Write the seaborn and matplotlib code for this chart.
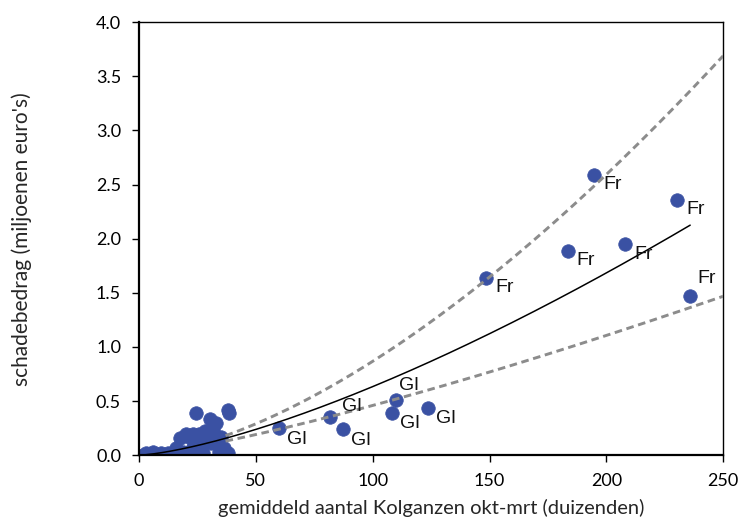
import numpy as np
import pandas as pd
import matplotlib
matplotlib.use("Agg")
import matplotlib.pyplot as plt
import seaborn as sns
from matplotlib.ticker import FormatStrFormatter

# average number of geese (thousands) vs damage (million euro)
cluster_x = [24.4, 38.0, 38.4, 30.4, 33.0, 31.8, 28.0, 25.8, 23.0, 20.1, 17.3,
             21.5, 24.4, 28.7, 35.1, 30.8, 33.7, 36.5, 38.0, 34.4, 25.8, 27.3,
             21.5, 18.7, 15.8, 12.3, 9.4, 5.9, 3.0, 1.6, 14.4, 23.0, 32.2]
cluster_y = [0.39, 0.42, 0.39, 0.33, 0.30, 0.23, 0.22, 0.20, 0.20, 0.20, 0.16,
             0.17, 0.14, 0.16, 0.17, 0.11, 0.10, 0.07, 0.02, 0.03, 0.07, 0.02,
             0.03, 0.03, 0.07, 0.02, 0.02, 0.03, 0.02, 0.00, 0.02, 0.08, 0.19]

gl_x = [59.9, 81.5, 87.2, 108.4, 109.9, 123.7]
gl_y = [0.25, 0.35, 0.24, 0.39, 0.51, 0.44]

fr_x = [148.7, 183.4, 194.8, 208.0, 230.3, 235.9]
fr_y = [1.64, 1.89, 2.59, 1.95, 2.36, 1.47]

# power trendlines y = a * x^b
trend_all = (0.000959, 1.41)
trend_fr = (0.000600, 1.58)
trend_gl = (0.001337, 1.268)

x_ticks = [0, 50, 100, 150, 200, 250]
y_ticks = [0.0, 0.5, 1.0, 1.5, 2.0, 2.5, 3.0, 3.5, 4.0]

xlabel = "gemiddeld aantal Kolganzen okt-mrt (duizenden)"
ylabel = "schadebedrag (miljoenen euro's)"

sns.set_style("white")
plt.rcParams["font.family"] = ["Lato", "DejaVu Sans"]

fig = plt.figure(figsize=(7.52, 5.22), dpi=100)
ax = fig.add_axes([0.185, 0.128, 0.7766, 0.8295])


def curve(coef, x0, x1):
    xs = np.linspace(x0, x1, 200)
    return pd.DataFrame({"x": xs, "y": coef[0] * xs ** coef[1]})


pts = pd.DataFrame({"x": cluster_x + gl_x + fr_x, "y": cluster_y + gl_y + fr_y})
sns.scatterplot(data=pts, x="x", y="y", ax=ax, s=95, color="#3A51A3",
                edgecolor="#3A51A3", linewidth=0.5, zorder=2)

sns.lineplot(data=curve(trend_fr, 37, 250), x="x", y="y", ax=ax, color="#8C8C8C",
             lw=2.1, linestyle=(0, (2.6, 1.6)), zorder=3)
sns.lineplot(data=curve(trend_gl, 37, 250), x="x", y="y", ax=ax, color="#8C8C8C",
             lw=2.1, linestyle=(0, (2.6, 1.6)), zorder=3)
sns.lineplot(data=curve(trend_all, 2.6, 235.9), x="x", y="y", ax=ax, color="black",
             lw=1.1, zorder=4)

# labels for the regions (offsets in pixels)
gl_off = [(8, -11), (12, 11), (8, -11), (8, -11), (3, 14), (8, -11)]
fr_off = [(9, -10), (9, -10), (9, -10), (9, -10), (9, -10), (7, 18)]
for xs, ys, lab, offs in [(gl_x, gl_y, "Gl", gl_off), (fr_x, fr_y, "Fr", fr_off)]:
    for x, y, (dx, dy) in zip(xs, ys, offs):
        ax.annotate(lab, (x, y), xytext=(dx * 0.72, dy * 0.72), textcoords="offset points",
                    ha="left", va="center", fontsize=14, family="Liberation Sans",
                    color="#111111", zorder=5)

ax.set_xlim(0, 250)
ax.set_ylim(0, 4.0)
ax.set_xticks(x_ticks)
ax.set_yticks(y_ticks)
ax.yaxis.set_major_formatter(FormatStrFormatter("%.1f"))
ax.tick_params(axis="both", direction="out", length=5, width=1, pad=8,
               labelsize=13, colors="black", bottom=True, left=True)
for side, sp in ax.spines.items():
    sp.set_visible(True)
    sp.set_color("black")
    sp.set_linewidth(1.6 if side in ("left", "bottom") else 1.0)
ax.set_xlabel(xlabel, fontsize=14.5, labelpad=7)
ax.set_ylabel(ylabel, fontsize=15, labelpad=46)
ax.grid(False)

fig.savefig("out.png", dpi=100)
